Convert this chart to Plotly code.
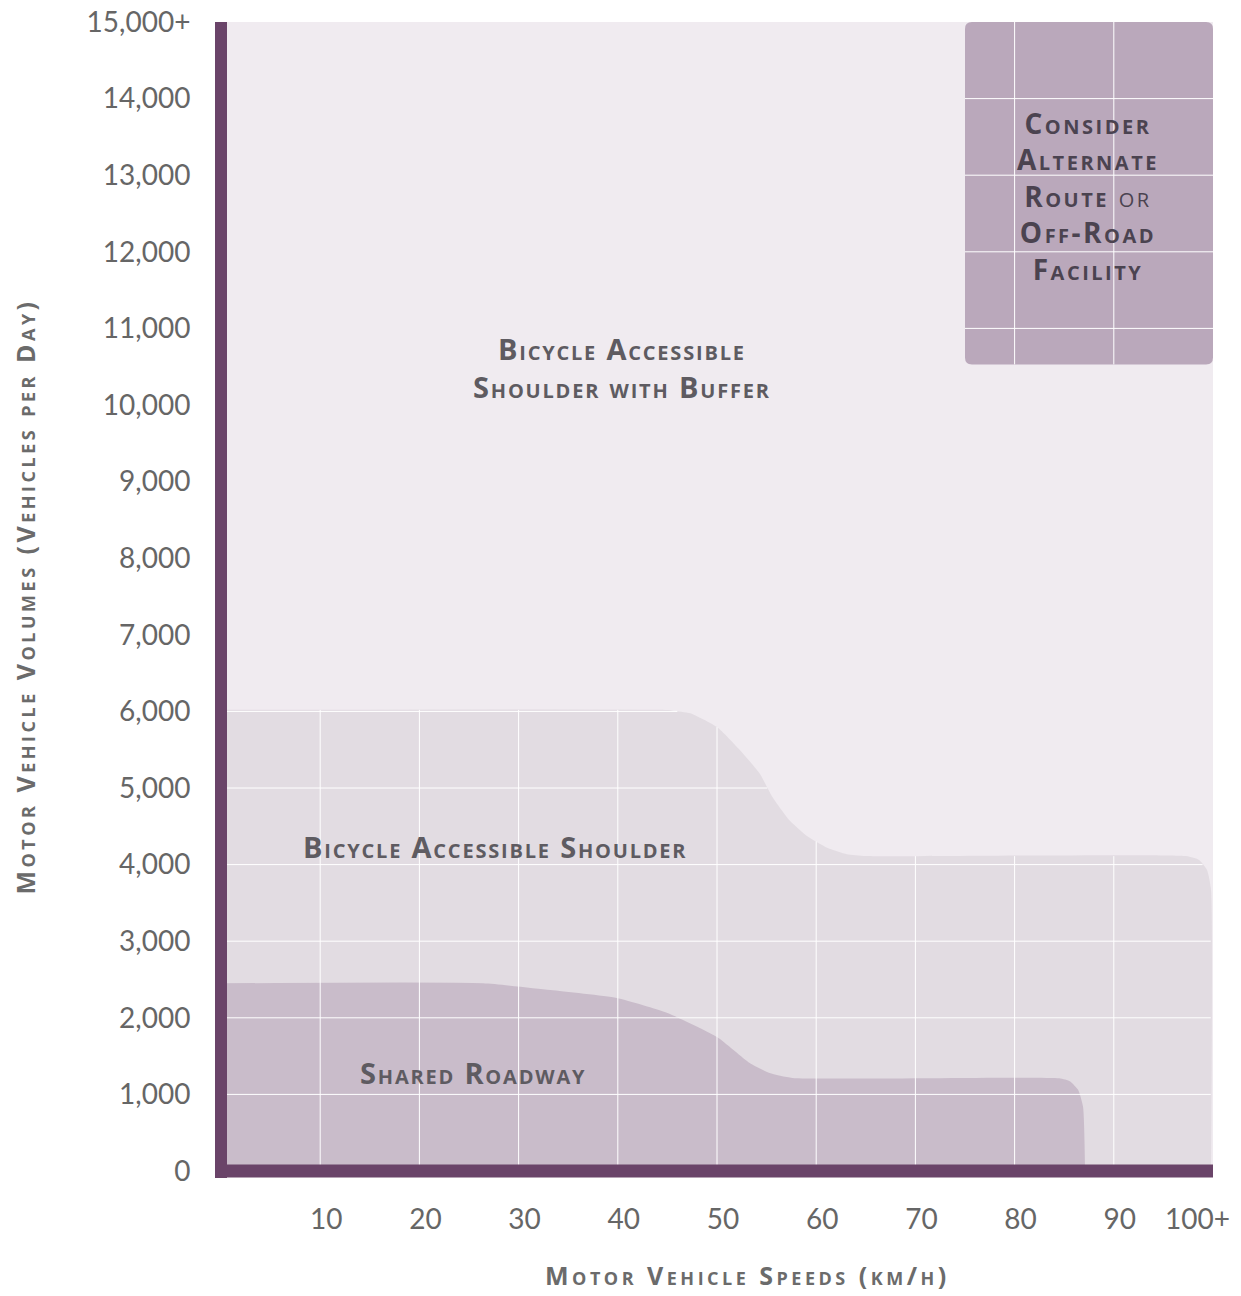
import numpy as np
import plotly.graph_objects as go

# Boundaries (speed in km/h, volume in vehicles per day)
SHOULDER_SPEED = [0, 44.5, 45.5, 47.3, 50.0, 52.3, 54.3, 55.6, 57.3, 59.1, 61.1, 63.1, 65.0,
                  97.3, 98.6, 99.4, 99.8, 99.8]
SHOULDER_VOLUME = [6020, 6020, 6010, 5975, 5795, 5495, 5190, 4880, 4580, 4370, 4220, 4135, 4111,
                   4111, 4060, 3930, 3670, 0]

SHARED_SPEED = [0, 26.4, 33.2, 39.9, 45.0, 50.0, 53.3, 55.3, 57.6, 84.5, 85.6, 86.4, 86.9, 87.1]
SHARED_VOLUME = [2450, 2450, 2362, 2258, 2062, 1749, 1410, 1279, 1215, 1210, 1170, 1060, 840, 0]

ALT_ROUTE_SPEED = [75, 100]
ALT_ROUTE_VOLUME = [10530, 15000]

SPEED_TICKS = [10, 20, 30, 40, 50, 60, 70, 80, 90, 100]
SPEED_LABELS = ["10", "20", "30", "40", "50", "60", "70", "80", "90", "100+"]
VOLUME_TICKS = list(range(0, 15001, 1000))
VOLUME_LABELS = [f"{v:,}" for v in VOLUME_TICKS[:-1]] + ["15,000+"]

BG = "#F0EBF0"
SHOULDER_COLOR = "#E2DCE2"
SHARED_COLOR = "#C9BCCA"
ALT_COLOR = "#BAA8BB"
AXIS_COLOR = "#6A4469"
LABEL_COLOR = "#5E5B61"
FONT = "'Open Sans', sans-serif"
TICK_FONT = "Lato, 'Open Sans', sans-serif"


def spaced(text, px):
    return f'<span style="letter-spacing:{px}px">{text}</span>'


fig = go.Figure()

fig.add_trace(go.Scatter(
    x=SHOULDER_SPEED, y=SHOULDER_VOLUME, fill="tozeroy", fillcolor=SHOULDER_COLOR,
    mode="lines", line=dict(width=0, shape="spline", smoothing=0.5), hoverinfo="skip",
))
fig.add_trace(go.Scatter(
    x=SHARED_SPEED, y=SHARED_VOLUME, fill="tozeroy", fillcolor=SHARED_COLOR,
    mode="lines", line=dict(width=0, shape="spline", smoothing=0.5), hoverinfo="skip",
))

# alternate-route block: rounded rectangle, corner size ~7px converted to axis units
x0, x1 = ALT_ROUTE_SPEED
y0, y1 = ALT_ROUTE_VOLUME
rx, ry = 0.7, 90
fig.add_shape(
    type="path", xref="x", yref="y", layer="below", fillcolor=ALT_COLOR, line=dict(width=0),
    path=(f"M {x0 + rx},{y0} L {x1 - rx},{y0} Q {x1},{y0} {x1},{y0 + ry} "
          f"L {x1},{y1 - ry} Q {x1},{y1} {x1 - rx},{y1} L {x0 + rx},{y1} "
          f"Q {x0},{y1} {x0},{y1 - ry} L {x0},{y0 + ry} Q {x0},{y0} {x0 + rx},{y0} Z"),
)

# white grid only shows inside the shaded zones, so build the segments from them
xs = np.linspace(0, 100, 4001)
top = np.interp(xs, SHOULDER_SPEED, SHOULDER_VOLUME)
gx, gy = [], []
for t in SPEED_TICKS[:-1]:
    gx += [t, t, None]
    gy += [0, float(np.interp(t, SHOULDER_SPEED, SHOULDER_VOLUME)), None]
    if x0 <= t <= x1:
        gx += [t, t, None]
        gy += [y0, y1, None]
for v in VOLUME_TICKS[1:-1]:
    inside = xs[top >= v]
    if inside.size:
        gx += [0, float(inside.max()), None]
        gy += [v, v, None]
    if y0 <= v <= y1:
        gx += [x0, x1, None]
        gy += [v, v, None]
fig.add_trace(go.Scatter(x=gx, y=gy, mode="lines", line=dict(color="white", width=1),
                         hoverinfo="skip"))

label_font = dict(family=FONT, size=29, color=LABEL_COLOR, weight="bold", variant="small-caps")
fig.add_annotation(x=40.4, y=10490,
                   text=spaced("Bicycle Accessible", 1.8) + "<br>" + spaced("Shoulder with Buffer", 1.8),
                   showarrow=False, font=label_font)
fig.add_annotation(x=27.6, y=4230, text=spaced("Bicycle Accessible Shoulder", 1.8),
                   showarrow=False, font=label_font)
fig.add_annotation(x=25.4, y=1280, text=spaced("Shared Roadway", 1.8),
                   showarrow=False, font=label_font)
box_lines = ["<b>Consider</b>", "<b>Alternate</b>", "<b>Route</b> or", "<b>Off-Road</b>", "<b>Facility</b>"]
fig.add_annotation(x=87.4, y=12725,
                   text="<br>".join(spaced(s, 2.5) for s in box_lines),
                   showarrow=False,
                   font=dict(family=FONT, size=28, color="#4B4350", variant="small-caps"))

title_font = dict(family=FONT, size=25, color="#6B6B6B", weight="bold", variant="small-caps")
tick_font = dict(family=TICK_FONT, size=28, color="#666666")

# the last speed label sits pulled in from the right edge
fig.add_annotation(x=SPEED_TICKS[-1], xref="x", y=0, yref="paper", yanchor="middle",
                   xshift=-16, yshift=-47, text=SPEED_LABELS[-1], showarrow=False, font=tick_font)
# x title is set a little right of the plot centre in the source graphic
fig.add_annotation(x=0.531, xref="paper", y=0, yref="paper", yanchor="middle", yshift=-104,
                   text=spaced("Motor Vehicle Speeds (km/h)", 3.5), showarrow=False, font=title_font)

# thick axis bars sit centred on the zero lines, as in the source graphic
fig.add_shape(type="line", xref="paper", x0=0, x1=0, yref="paper", y0=-0.006, y1=1,
              line=dict(color=AXIS_COLOR, width=12))
fig.add_shape(type="line", yref="paper", y0=0, y1=0, xref="paper", x0=-0.006, x1=1,
              line=dict(color=AXIS_COLOR, width=13))

# the page body adds an 8px offset, so the figure is sized to the remaining window
fig.update_layout(
    width=1233, height=1288,
    margin=dict(l=213, r=28, t=14, b=125),
    paper_bgcolor="white", plot_bgcolor=BG,
    showlegend=False,
    xaxis=dict(
        range=[0, 100], showgrid=False, zeroline=False, automargin=False,
        tickvals=SPEED_TICKS[:-1], ticktext=SPEED_LABELS[:-1], tickfont=tick_font,
        ticks="", ticklabelstandoff=11, ticklabelshift=6,
        showline=True, linecolor="rgba(0,0,0,0)", linewidth=13,
    ),
    yaxis=dict(
        range=[0, 15000], showgrid=False, zeroline=False, automargin=False,
        tickvals=VOLUME_TICKS, ticktext=VOLUME_LABELS, tickfont=tick_font,
        ticks="", ticklabelstandoff=13, ticklabeloverflow="allow",
        showline=True, linecolor="rgba(0,0,0,0)", linewidth=12,
        title=dict(text=spaced("Motor Vehicle Volumes (Vehicles per Day)", 3.5), font=title_font,
                   standoff=50),
    ),
)

fig.write_html("out.html")
